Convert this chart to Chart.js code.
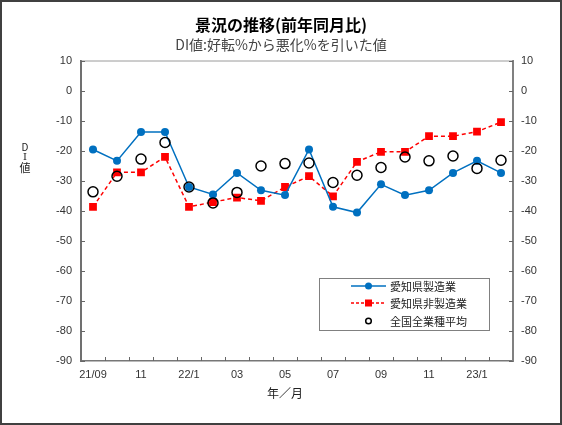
<!DOCTYPE html>
<html>
<head>
<meta charset="utf-8">
<script src="https://cdn.jsdelivr.net/npm/chart.js@4"></script>
<style>
html,body{margin:0;padding:0;background:#fff;}
#wrap{width:562px;height:425px;}
</style>
</head>
<body>
<div id="wrap"><canvas id="c" width="562" height="425"></canvas></div>
<script>
// ---- data ----
const categories = ['2021-09','2021-10','2021-11','2021-12','2022-01','2022-02','2022-03','2022-04','2022-05','2022-06','2022-07','2022-08','2022-09','2022-10','2022-11','2022-12','2023-01','2023-02'];
const tickLabels = ['21/09','','11','','22/1','','03','','05','','07','','09','','11','','23/1',''];
const aichiMfg    = [-19.6,-23.4,-13.8,-13.8,-32.1,-34.6,-27.4,-33.2,-34.8,-19.6,-38.7,-40.6,-31.2,-34.8,-33.2,-27.4,-23.4,-27.4];
const aichiNonMfg = [-38.7,-27.2,-27.2,-22.1,-38.7,-37.1,-35.6,-36.7,-32.1,-28.5,-35.2,-23.7,-20.4,-20.4,-15.2,-15.2,-13.7,-10.5];
const nationalAll = [-33.7,-28.5,-22.8,-17.3,-32.1,-37.4,-33.9,-25.1,-24.3,-24.1,-30.6,-28.2,-25.6,-22.1,-23.4,-21.8,-25.9,-23.2];
const seriesNames = ['愛知県製造業','愛知県非製造業','全国全業種平均'];
const yTicks = [10,0,-10,-20,-30,-40,-50,-60,-70,-80,-90];

const JP = '"Noto Sans CJK JP", sans-serif';
const NUM = '"Liberation Sans", Arial, sans-serif';
const BLUE = '#0070C0';
const RED = '#FF0000';

const decor = {
  id: 'decor',
  afterDraw(chart) {
    const ctx = chart.ctx;
    const a = chart.chartArea;
    const x = chart.scales.x, y = chart.scales.y;
    ctx.save();
    // top border of plot
    ctx.strokeStyle = '#9a9a9a';
    ctx.lineWidth = 1;
    ctx.beginPath(); ctx.moveTo(a.left, a.top + 0.5); ctx.lineTo(a.right, a.top + 0.5); ctx.stroke();
    // y ticks inward
    ctx.strokeStyle = '#666';
    ctx.lineWidth = 1;
    yTicks.forEach(v => {
      const py = Math.round(y.getPixelForValue(v)) + 0.5;
      ctx.beginPath(); ctx.moveTo(a.left, py); ctx.lineTo(a.left + 4, py); ctx.stroke();
      ctx.beginPath(); ctx.moveTo(a.right - 4, py); ctx.lineTo(a.right, py); ctx.stroke();
    });
    // x ticks at category boundaries, inward
    for (let i = 1; i < categories.length; i++) {
      const px = Math.round((x.getPixelForValue(i - 1) + x.getPixelForValue(i)) / 2) + 0.5;
      ctx.beginPath(); ctx.moveTo(px, a.bottom); ctx.lineTo(px, a.bottom - 4); ctx.stroke();
    }
    // y axis title stacked
    ctx.fillStyle = '#222';
    ctx.textAlign = 'center';
    ctx.textBaseline = 'middle';
    ctx.font = '10px ' + JP;
    ctx.fillText('D', 25, 147);
    ctx.font = '10px "DejaVu Serif", serif';
    ctx.fillText('I', 25, 157);
    ctx.font = '11px ' + JP;
    ctx.fillText('値', 25, 168);
    // x axis title
    ctx.font = '12px ' + JP;
    ctx.fillText('年／月', 285, 393);
    // legend box
    const lx = 319, ly = 278, lw = 170, lh = 52;
    ctx.fillStyle = '#fff';
    ctx.fillRect(lx, ly, lw, lh);
    ctx.strokeStyle = '#808080';
    ctx.lineWidth = 1;
    ctx.strokeRect(lx + 0.5, ly + 0.5, lw, lh);
    const rows = [286, 303, 321];
    ctx.font = '11px ' + JP;
    ctx.textAlign = 'left';
    rows.forEach((ry, i) => {
      if (i === 0) {
        ctx.strokeStyle = BLUE; ctx.lineWidth = 1.5; ctx.setLineDash([]);
        ctx.beginPath(); ctx.moveTo(351, ry); ctx.lineTo(386, ry); ctx.stroke();
        ctx.fillStyle = BLUE; ctx.beginPath(); ctx.arc(368.5, ry, 3.5, 0, Math.PI * 2); ctx.fill();
      } else if (i === 1) {
        ctx.strokeStyle = RED; ctx.lineWidth = 1.5; ctx.setLineDash([3, 2]);
        ctx.beginPath(); ctx.moveTo(351, ry); ctx.lineTo(386, ry); ctx.stroke();
        ctx.setLineDash([]);
        ctx.fillStyle = RED; ctx.fillRect(365, ry - 3.5, 7, 7);
      } else {
        ctx.strokeStyle = '#000'; ctx.lineWidth = 1.5;
        ctx.beginPath(); ctx.arc(368.5, ry, 2.8, 0, Math.PI * 2); ctx.stroke();
      }
      ctx.fillStyle = '#222';
      ctx.fillText(seriesNames[i], 390, ry + 1);
    });
    // outer frame
    ctx.strokeStyle = '#404040';
    ctx.lineWidth = 2;
    ctx.strokeRect(1, 1, 560, 423);
    ctx.restore();
  }
};

new Chart(document.getElementById('c'), {
  type: 'line',
  data: {
    labels: categories,
    datasets: [
      { label: seriesNames[0], data: aichiMfg, borderColor: BLUE, backgroundColor: BLUE,
        borderWidth: 1.5, pointStyle: 'circle', pointRadius: 4, pointBorderWidth: 0, tension: 0, order: 2, yAxisID: 'y' },
      { label: seriesNames[1], data: aichiNonMfg, borderColor: RED, backgroundColor: RED,
        borderWidth: 1.5, borderDash: [4, 3], pointStyle: 'rect', pointRadius: 5.5, pointBorderWidth: 0, tension: 0, order: 3, yAxisID: 'y' },
      { label: seriesNames[2], data: nationalAll, borderColor: '#000', backgroundColor: 'rgba(0,0,0,0)',
        showLine: false, pointStyle: 'circle', pointRadius: 5, pointBorderWidth: 1.5, order: 1, yAxisID: 'y' }
    ]
  },
  options: {
    responsive: false,
    animation: false,
    devicePixelRatio: 1,
    layout: { padding: 0 },
    plugins: {
      legend: { display: false },
      tooltip: { enabled: false },
      title: { display: true, text: '景況の推移(前年同月比)', color: '#000',
        font: { family: JP, size: 16, weight: 'bold' }, padding: { top: 15, bottom: 2 } },
      subtitle: { display: true, text: 'DI値:好転%から悪化%を引いた値', color: '#444',
        font: { family: JP, size: 14 }, padding: { top: 0, bottom: 7.5 } }
    },
    scales: {
      x: {
        type: 'category', offset: true,
        grid: { display: false, drawTicks: false },
        border: { display: true, color: '#777', width: 1.5 },
        ticks: { autoSkip: false, maxRotation: 0, padding: 7, color: '#333',
          font: { family: NUM, size: 11 }, callback: (v, i) => tickLabels[i] },
        afterFit(s) { s.height = 64; }
      },
      y: {
        position: 'left', min: -90, max: 10,
        grid: { display: false, drawTicks: false },
        border: { display: true, color: '#707070', width: 2 },
        ticks: { stepSize: 10, padding: 9, color: '#333', font: { family: NUM, size: 11 } },
        afterFit(s) { s.width = 81; }
      },
      y2: {
        position: 'right', min: -90, max: 10,
        grid: { display: false, drawTicks: false },
        border: { display: true, color: '#808080', width: 2 },
        ticks: { stepSize: 10, padding: 8, color: '#333', font: { family: NUM, size: 11 } },
        afterFit(s) { s.width = 49; }
      }
    }
  },
  plugins: [decor]
});
</script>
</body>
</html>
